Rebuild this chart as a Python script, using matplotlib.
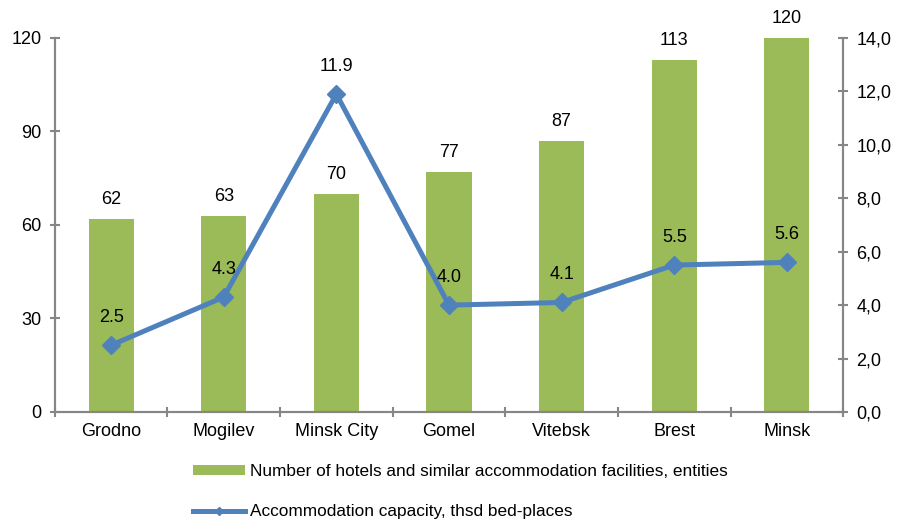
import matplotlib.pyplot as plt
from matplotlib.lines import Line2D
from matplotlib.patches import Patch
from matplotlib.ticker import FuncFormatter

plt.rcParams['font.family'] = ['Liberation Sans', 'DejaVu Sans']

regions = ['Grodno', 'Mogilev', 'Minsk City', 'Gomel', 'Vitebsk', 'Brest', 'Minsk']
hotels = [62, 63, 70, 77, 87, 113, 120]
capacity = [2.5, 4.3, 11.9, 4.0, 4.1, 5.5, 5.6]

green = '#9BBB59'
blue = '#4F81BD'
grey = '#868686'

fig = plt.figure(figsize=(8.98, 5.20), dpi=100)
ax = fig.add_axes([0.061, 0.2077, 0.878, 0.7193])
ax2 = ax.twinx()

x = list(range(len(regions)))

# bars - number of hotels
ax.bar(x, hotels, width=0.4, color=green, zorder=2)
for xi, v in zip(x, hotels):
    ax.annotate(str(v), (xi, v), xytext=(0, 8), textcoords='offset points',
                ha='center', va='bottom', fontsize=13)

# line - capacity
ax2.plot(x, capacity, color=blue, linewidth=3.6, marker='D', markersize=9.5,
         markeredgecolor=blue, zorder=3)
for xi, v in zip(x, capacity):
    ax2.annotate('%.1f' % v, (xi, v), xytext=(0, 14), textcoords='offset points',
                 ha='center', va='bottom', fontsize=13)

ax.set_xlim(-0.5, len(regions) - 0.5)
ax.set_ylim(0, 120)
ax2.set_ylim(0, 14)
ax.set_yticks([0, 30, 60, 90, 120])
ax2.set_yticks([0, 2, 4, 6, 8, 10, 12, 14])
ax2.yaxis.set_major_formatter(FuncFormatter(lambda v, p: ('%.1f' % v).replace('.', ',')))

ax.set_xticks(x)
ax.set_xticklabels(regions)
ax.set_xticks([i - 0.5 for i in range(len(regions) + 1)], minor=True)
ax.tick_params(axis='x', which='major', length=0, pad=8, labelsize=13)
ax.tick_params(axis='x', which='minor', length=7, direction='inout', color=grey, width=1.5)
ax.tick_params(axis='y', length=7, direction='inout', color=grey, width=1.5, labelsize=13, pad=6)
ax2.tick_params(axis='y', length=7, direction='inout', color=grey, width=1.5, labelsize=13, pad=6)

for a in (ax, ax2):
    a.spines['top'].set_visible(False)
    for s in ('left', 'right', 'bottom'):
        a.spines[s].set_color(grey)
        a.spines[s].set_linewidth(1.5)

handles = [
    Patch(facecolor=green, edgecolor='none'),
    Line2D([0], [0], color=blue, linewidth=3.6, marker='D', markersize=4),
]
labels = ['Number of hotels and similar accommodation facilities, entities',
          'Accommodation capacity, thsd bed-places']
fig.legend(handles, labels, loc='upper left', bbox_to_anchor=(0.215, 0.107),
           frameon=False, fontsize=12.4, handlelength=3.0, handleheight=0.5,
           handletextpad=0.3, labelspacing=1.45, borderpad=0, borderaxespad=0)

fig.savefig('out.png', dpi=100)
